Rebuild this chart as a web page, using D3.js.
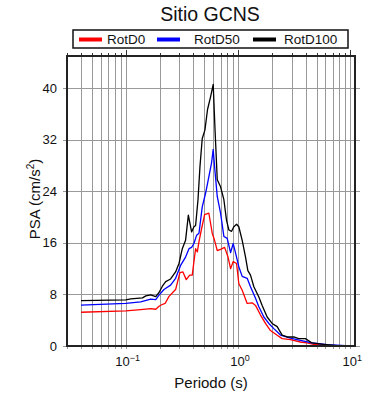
<!DOCTYPE html>
<html><head><meta charset="utf-8">
<script src="https://cdn.jsdelivr.net/npm/d3@7"></script>
<style>body{margin:0;background:#fff}svg{display:block}text{font-family:"Liberation Sans",Arial,sans-serif}</style>
</head><body>
<svg id="c" width="390" height="400"></svg>
<script>
const title = "Sitio GCNS";
const seriesNames = ["RotD0", "RotD50", "RotD100"];
const seriesColors = ["#ff0000", "#0000ff", "#000000"];
const yTicks = [0, 8, 16, 24, 32, 40];
const xMajor = [0.1, 1, 10];
const xMajorLabels = ["\u22121", "0", "1"];

const periodsD100 = [0.04,0.1,0.111,0.141,0.151,0.167,0.185,0.198,0.212,0.227,0.251,0.278,0.298,0.319,0.341,0.361,0.386,0.405,0.419,0.440,0.458,0.480,0.507,0.535,0.570,0.601,0.622,0.653,0.699,0.748,0.790,0.829,0.876,0.918,0.970,1.016,1.089,1.166,1.223,1.291,1.383,1.532,1.640,1.817,2.012,2.230,2.470,2.735,3.135,3.473,3.98,4.56,5.79,7.60,10.0];
const valuesD100 = [7.05,7.15,7.3,7.47,7.78,7.93,7.67,8.3,9.28,10.0,10.4,11.5,12.8,15.1,16.4,20.3,17.7,18.5,18.7,22.7,27.8,32.2,33.5,36.7,38.7,40.6,34.1,25.8,24.7,22.7,19.5,18.0,17.8,18.5,18.9,18.5,16.4,13.8,11.7,11.0,9.2,7.6,6.3,4.5,3.5,3.0,1.7,1.4,1.4,1.14,1.14,0.47,0.26,0.05,0.0];

const periodsD50 = [0.04,0.1,0.136,0.167,0.185,0.198,0.219,0.251,0.278,0.308,0.341,0.366,0.386,0.405,0.428,0.449,0.480,0.514,0.550,0.581,0.601,0.622,0.653,0.699,0.748,0.801,0.858,0.906,0.970,1.016,1.089,1.206,1.291,1.431,1.532,1.697,1.880,2.083,2.387,2.929,3.594,4.56,6.20,10.0];
const valuesD50 = [6.33,6.6,6.84,7.26,7.2,7.9,8.76,9.44,10.5,12.5,13.8,15.1,15.3,15.9,17.2,17.5,21.6,23.7,26.3,28.4,30.5,27.3,23.2,20.6,17.0,16.7,14.5,15.9,13.8,12.3,10.8,10.5,9.2,7.4,6.1,4.5,3.5,2.7,1.7,1.24,0.88,0.47,0.2,0.0];

const periodsD0 = [0.04,0.1,0.136,0.167,0.185,0.198,0.209,0.224,0.243,0.278,0.304,0.323,0.346,0.371,0.391,0.419,0.434,0.449,0.471,0.504,0.550,0.589,0.618,0.653,0.699,0.759,0.812,0.858,0.906,0.970,1.016,1.089,1.206,1.336,1.431,1.585,1.755,1.945,2.230,2.470,2.929,3.594,4.12,4.72,6.20,10.0];
const valuesD0 = [5.24,5.44,5.65,5.8,5.7,6.17,6.4,6.6,7.7,8.76,11.4,11.5,10.3,11.0,11.0,15.1,14.6,16.2,18.0,20.4,20.6,17.5,16.4,14.8,15.0,15.3,13.9,12.0,13.1,12.8,9.7,8.66,6.6,6.7,6.3,4.8,3.5,2.4,1.66,1.14,1.0,0.62,0.47,0.26,0.1,0.0];

const series = [
  {name: seriesNames[0], color: seriesColors[0], p: periodsD0, v: valuesD0},
  {name: seriesNames[1], color: seriesColors[1], p: periodsD50, v: valuesD50},
  {name: seriesNames[2], color: seriesColors[2], p: periodsD100, v: valuesD100}
];

const L = 67, R = 355, T = 56, B = 346;
const svg = d3.select("#c");
const x = d3.scaleLog().domain([0.03, 11]).range([L, R]);
const y = d3.scaleLinear().domain([0, 45]).range([B, T]);

const xAll = [];
[0.01, 0.1, 1, 10].forEach(d => { for (let k = 1; k <= 9; k++) { const v = +(d * k).toPrecision(3); if (v >= 0.03 && v <= 11) xAll.push(v); } });

const grid = svg.append("g").attr("stroke", "#999").attr("stroke-width", 1);
xAll.forEach(v => {
  const px = Math.round(x(v)) + 0.5;
  grid.append("line").attr("x1", px).attr("x2", px).attr("y1", T).attr("y2", B + 3);
});
yTicks.forEach(v => {
  const py = Math.round(y(v)) + 0.5;
  grid.append("line").attr("x1", L - 4).attr("x2", R + 5).attr("y1", py).attr("y2", py);
});

const topAxis = svg.append("g").attr("stroke", "#333").attr("stroke-width", 1);
xAll.forEach(v => {
  const px = Math.round(x(v)) + 0.5;
  const major = xMajor.includes(v);
  topAxis.append("line").attr("x1", px).attr("x2", px).attr("y1", T).attr("y2", T - (major ? 6 : 3));
});

const line = d3.line().x(d => x(d[0])).y(d => y(d[1]));
series.forEach(s => {
  svg.append("path").datum(s.p.map((p, i) => [p, s.v[i]]))
    .attr("d", line).attr("fill", "none").attr("stroke", s.color).attr("stroke-width", 1.3).attr("stroke-linejoin", "round");
});

svg.append("rect").attr("x", L).attr("y", T).attr("width", R - L).attr("height", B - T)
  .attr("fill", "none").attr("stroke", "#222").attr("stroke-width", 2);

yTicks.forEach(v => {
  svg.append("text").attr("x", 57).attr("y", y(v)).attr("dy", "0.35em").attr("text-anchor", "end")
    .attr("font-size", 13).attr("fill", "#111").text(v);
});
xMajor.forEach((v, i) => {
  const t = svg.append("text").attr("x", x(v) + 2).attr("y", 366).attr("text-anchor", "middle").attr("font-size", 13).attr("fill", "#111");
  t.append("tspan").text("10");
  t.append("tspan").attr("dy", -5).attr("font-size", 9).text(xMajorLabels[i]);
});

svg.append("text").attr("x", 211).attr("y", 388).attr("text-anchor", "middle").attr("font-size", 15).attr("fill", "#111").text("Periodo (s)");
const yl = svg.append("text").attr("transform", "translate(40,199) rotate(-90)").attr("text-anchor", "middle").attr("font-size", 15).attr("fill", "#111");
yl.append("tspan").text("PSA (cm/s");
yl.append("tspan").attr("dy", -6).attr("font-size", 10).text("2");
yl.append("tspan").attr("dy", 6).text(")");

svg.append("text").attr("x", 210).attr("y", 21).attr("text-anchor", "middle").attr("font-size", 19.5).attr("fill", "#111").text(title);

svg.append("rect").attr("x", 73).attr("y", 30).attr("width", 275).attr("height", 18).attr("fill", "#fff").attr("stroke", "#111").attr("stroke-width", 1.5);
const legX = [79, 157, 253];
const legTX = [107, 194, 284];
series.forEach((s, i) => {
  svg.append("line").attr("x1", legX[i]).attr("x2", legX[i] + 23).attr("y1", 39.5).attr("y2", 39.5).attr("stroke", s.color).attr("stroke-width", 4);
  svg.append("text").attr("x", legTX[i]).attr("y", 39).attr("dy", "0.36em").attr("font-size", 13.5).attr("fill", "#111").text(s.name);
});
</script>
</body></html>
